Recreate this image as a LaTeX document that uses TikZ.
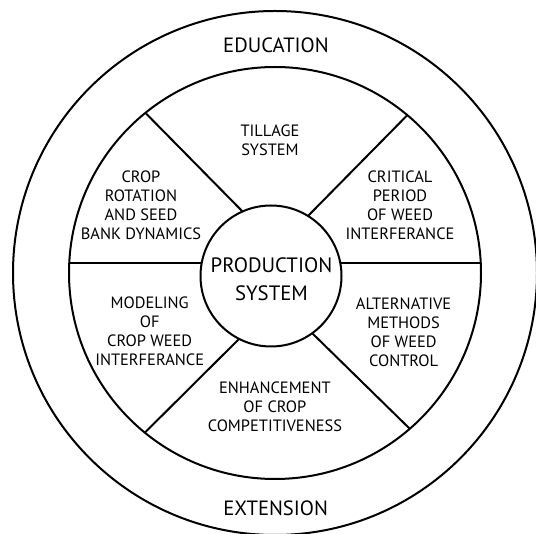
\documentclass[tikz,border=0pt]{standalone}
\usepackage{fontspec}
\setmainfont{PT Sans}
\begin{document}
\begin{tikzpicture}[x=0.75pt,y=-0.75pt,
  ringline/.style={line width=1.5pt},
  band/.style={circle,draw,line width=1.5pt,inner sep=0pt,outer sep=0pt},
  topic/.style={align=center,font=\fontsize{12.3}{14.3}\selectfont},
  header/.style={align=center,font=\fontsize{15.5}{18}\selectfont},
  hub/.style={align=center,font=\fontsize{15.6}{21}\selectfont}]
\useasboundingbox (0,0) rectangle (536,534);

% concentric rings
\node[band,minimum size=393pt] (outer) at (275,273) {};
\node[band,minimum size=309pt] (ring) at (275,273) {};

% spoke end points: on the ring and just inside the hub
\coordinate (nwa) at (146,113.5);  \coordinate (nwb) at (246,215);
\coordinate (nea) at (407,115.5);  \coordinate (neb) at (305,219);
\coordinate (swa) at (144.5,433);  \coordinate (swb) at (240,338);
\coordinate (sea) at (410,429);    \coordinate (seb) at (312,333);
\coordinate (wa) at (69,263);      \coordinate (wb) at (205,263);
\coordinate (ea) at (481,263);     \coordinate (eb) at (337,263);

\draw[ringline] (nwa) -- (nwb);
\draw[ringline] (nea) -- (neb);
\draw[ringline] (swa) -- (swb);
\draw[ringline] (sea) -- (seb);
\draw[ringline] (wa) -- (wb);
\draw[ringline] (ea) -- (eb);

% hub
\node[band,fill=white,minimum size=105.75pt] (core) at (271,276) {};
\node[hub] (prod) at (271.5,279.5) {PRODUCTION\\SYSTEM};

% outer band labels
\node[header] (edu) at (276,45.6) {EDUCATION};
\node[header] (ext) at (275.7,508.5) {EXTENSION};

% sector labels
\node[topic] (till) at (270,140) {TILLAGE\\SYSTEM};
\node[topic] (crop) at (141,205) {CROP\\ROTATION\\AND SEED\\BANK DYNAMICS};
\node[topic] (crit) at (400,205.5) {CRITICAL\\PERIOD\\OF WEED\\INTERFERANCE};
\node[topic] (model) at (149.7,331) {MODELING\\OF\\CROP WEED\\INTERFERANCE};
\node[topic] (alt) at (403.6,332.5) {ALTERNATIVE\\METHODS\\OF WEED\\CONTROL};
\node[topic] (enh) at (274.9,407) {ENHANCEMENT\\OF CROP\\COMPETITIVENESS};
\end{tikzpicture}
\end{document}
